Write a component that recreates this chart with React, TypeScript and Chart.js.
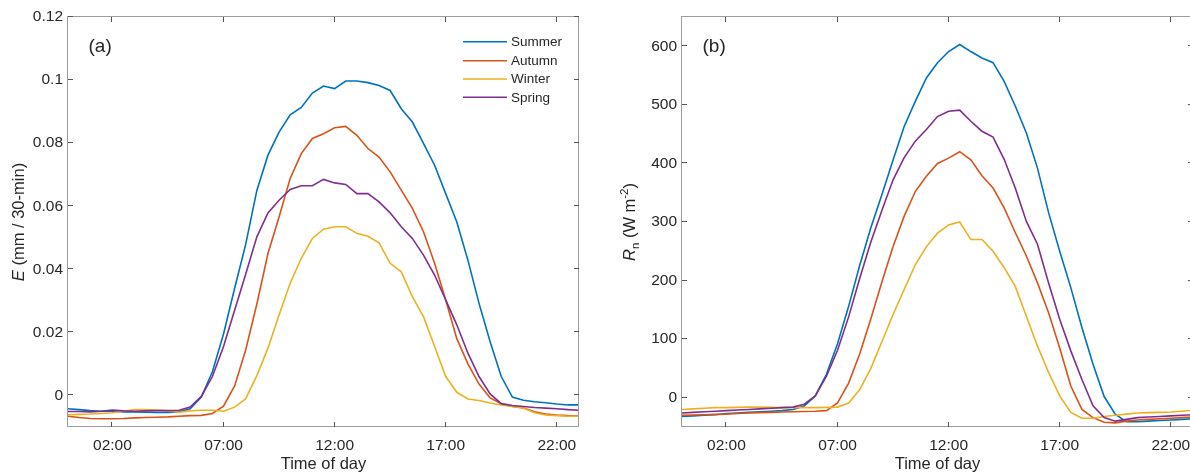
import React, { useEffect, useRef } from 'react';
import { Chart, registerables } from 'chart.js';

Chart.register(...registerables);

// ---------- data ----------
const HOURS = [
  0, 0.5, 1, 1.5, 2, 2.5, 3, 3.5, 4, 4.5, 5, 5.5, 6, 6.5, 7, 7.5, 8, 8.5, 9, 9.5, 10, 10.5, 11, 11.5,
  12, 12.5, 13, 13.5, 14, 14.5, 15, 15.5, 16, 16.5, 17, 17.5, 18, 18.5, 19, 19.5, 20, 20.5, 21, 21.5,
  22, 22.5, 23,
];

const SEASONS = ['Summer', 'Autumn', 'Winter', 'Spring'];
const COLORS = ['#0072BD', '#D95319', '#EDB120', '#7E2F8E'];

const E_SUMMER = [
  -0.0042, -0.0045, -0.0048, -0.005, -0.005, -0.0052, -0.0052, -0.0053, -0.0054, -0.0054, -0.0052, -0.0042,
  -0.0005, 0.0075, 0.0195, 0.034, 0.048, 0.065, 0.0762, 0.0835, 0.089, 0.0913, 0.0959, 0.0981, 0.0973,
  0.0997, 0.0997, 0.0992, 0.0983, 0.0967, 0.0909, 0.0867, 0.0799, 0.073, 0.064, 0.055, 0.0429, 0.0292,
  0.017, 0.006, -0.0005, -0.0015, -0.002, -0.0023, -0.0027, -0.003, -0.003,
];
const E_AUTUMN = [
  -0.0066, -0.007, -0.0073, -0.0074, -0.0074, -0.0073, -0.0071, -0.007, -0.0069, -0.0068, -0.0066, -0.0064,
  -0.0063, -0.0057, -0.0034, 0.003, 0.0145, 0.029, 0.045, 0.0566, 0.0688, 0.0767, 0.0815, 0.083, 0.0849,
  0.0853, 0.0825, 0.0783, 0.0756, 0.0709, 0.0651, 0.0593, 0.0519, 0.0419, 0.0303, 0.018, 0.01, 0.0036,
  -0.0008, -0.0026, -0.0035, -0.004, -0.0052, -0.0059, -0.0062, -0.0064, -0.0065,
];
const E_WINTER = [
  -0.0061, -0.006, -0.0059, -0.0057, -0.0055, -0.005, -0.0045, -0.0045, -0.0046, -0.0049, -0.0053, -0.0049,
  -0.0047, -0.0047, -0.005, -0.0037, -0.001, 0.0063, 0.015, 0.0255, 0.0356, 0.0435, 0.0498, 0.0527, 0.0535,
  0.0535, 0.0514, 0.0505, 0.0484, 0.0419, 0.0392, 0.0313, 0.025, 0.0155, 0.006, 0.001, -0.0011, -0.0016,
  -0.0024, -0.003, -0.0035, -0.004, -0.0055, -0.0062, -0.0064, -0.0066, -0.0066,
];
const E_SPRING = [
  -0.0051, -0.0051, -0.0052, -0.005, -0.0046, -0.0049, -0.005, -0.0049, -0.0048, -0.0048, -0.0047, -0.0037,
  -0.0003, 0.006, 0.0155, 0.027, 0.0385, 0.0503, 0.0579, 0.0619, 0.0653, 0.0665, 0.0665, 0.0685, 0.0674,
  0.0669, 0.064, 0.064, 0.0614, 0.0579, 0.0535, 0.0498, 0.0445, 0.0382, 0.0303, 0.0224, 0.0134, 0.006,
  0.0005, -0.0026, -0.0032, -0.0035, -0.0038, -0.004, -0.0042, -0.0045, -0.0047,
];

const RN_SUMMER = [
  -32, -31, -30, -29, -27, -26, -25, -24, -23, -22, -20, -14, 3, 40, 92, 156, 226, 290, 347, 406, 463, 506,
  546, 572, 591, 603, 591, 580, 572, 540, 498, 452, 392, 316, 250, 188, 120, 57, 2, -28, -41, -41, -40, -39,
  -38, -37, -36,
];
const RN_AUTUMN = [
  -30, -29.5, -29, -28.5, -28, -27, -26, -25.5, -25, -24.5, -24, -23.5, -23, -22, -9, 25, 75, 135, 198, 258,
  310, 352, 378, 400, 409, 420, 406, 379, 358, 324, 282, 242, 196, 145, 85, 20, -20, -34, -42, -43, -40, -38,
  -37, -36, -35, -34, -33,
];
const RN_WINTER = [
  -20, -19, -18, -17, -17, -16.5, -16, -16, -16.5, -17, -17, -17, -17, -16.5, -16, -9, 14, 50, 96, 142, 185,
  227, 258, 281, 295, 300, 270, 270, 250, 222, 190, 139, 88, 43, 3, -25, -35, -35, -32, -30, -28, -26, -25.5,
  -25, -24.5, -23, -21.5,
];
const RN_SPRING = [
  -26, -25, -24, -23, -22, -21, -20, -19, -18, -17, -16, -11, 3, 37, 81, 138, 204, 266, 320, 372, 410, 438,
  458, 480, 489, 491, 472, 455, 445, 407, 358, 301, 262, 196, 134, 80, 31, -14, -34, -40, -37, -34, -33, -32,
  -31, -30, -29,
];

const X_TICKS = [2, 7, 12, 17, 22];
const X_TICK_LABELS = ['02:00', '07:00', '12:00', '17:00', '22:00'];
const E_TICKS = [0, 0.02, 0.04, 0.06, 0.08, 0.1, 0.12];
const E_TICK_LABELS = ['0', '0.02', '0.04', '0.06', '0.08', '0.1', '0.12'];
const RN_TICKS = [0, 100, 200, 300, 400, 500, 600];
const RN_TICK_LABELS = ['0', '100', '200', '300', '400', '500', '600'];

// ---------- styling ----------
const FONT = "'Liberation Sans', Arial, Helvetica, sans-serif";
const TEXT = '#262626';
const FRAME = '#9c9c9c';
const TICKMARK = '#555555';

type Part = { t: string; italic?: boolean; shift?: 'sub' | 'sup' };

function overlay(opts: { id: string; label: string; title: Part[]; titleBaseX: number; legend: boolean }) {
  return {
    id: opts.id,
    afterDraw(chart: any) {
      const { ctx, chartArea: a, scales } = chart;
      ctx.save();
      // frame
      ctx.strokeStyle = FRAME;
      ctx.lineWidth = 1;
      ctx.strokeRect(a.left - 0.5, a.top - 0.5, a.right - a.left, a.bottom - a.top);
      // inward ticks on all sides
      ctx.strokeStyle = TICKMARK;
      ctx.beginPath();
      const tl = 5;
      scales.x.ticks.forEach((t: any) => {
        const px = Math.round(scales.x.getPixelForValue(t.value)) - 0.5;
        ctx.moveTo(px, a.bottom);
        ctx.lineTo(px, a.bottom - tl);
        ctx.moveTo(px, a.top);
        ctx.lineTo(px, a.top + tl);
      });
      scales.y.ticks.forEach((t: any) => {
        const py = Math.round(scales.y.getPixelForValue(t.value)) - 0.5;
        ctx.moveTo(a.left, py);
        ctx.lineTo(a.left + tl, py);
        ctx.moveTo(a.right, py);
        ctx.lineTo(a.right - tl, py);
      });
      ctx.stroke();

      // panel label
      ctx.fillStyle = TEXT;
      ctx.font = `19px ${FONT}`;
      ctx.textBaseline = 'middle';
      ctx.textAlign = 'left';
      ctx.fillText(opts.label, a.left + 20.5, 47);

      // x title
      ctx.font = `16.5px ${FONT}`;
      ctx.textAlign = 'center';
      ctx.textBaseline = 'alphabetic';
      ctx.fillText('Time of day', (a.left + a.right) / 2, 469);

      // y title (rotated, mixed styles)
      const size = 16.5;
      const small = 11.5;
      const fontFor = (p: Part) =>
        `${p.italic ? 'italic ' : ''}${p.shift ? small : size}px ${FONT}`;
      let total = 0;
      opts.title.forEach((p) => {
        ctx.font = fontFor(p);
        total += ctx.measureText(p.t).width;
      });
      ctx.save();
      ctx.translate(opts.titleBaseX, (a.top + a.bottom) / 2);
      ctx.rotate(-Math.PI / 2);
      ctx.textAlign = 'left';
      ctx.textBaseline = 'alphabetic';
      let cx = -total / 2;
      opts.title.forEach((p) => {
        ctx.font = fontFor(p);
        const dy = p.shift === 'sub' ? 4 : p.shift === 'sup' ? -7 : 0;
        ctx.fillText(p.t, cx, dy);
        cx += ctx.measureText(p.t).width;
      });
      ctx.restore();

      // legend
      if (opts.legend) {
        const rows = [41.7, 60.7, 79, 97.3];
        ctx.font = `13.5px ${FONT}`;
        ctx.textAlign = 'left';
        ctx.textBaseline = 'middle';
        SEASONS.forEach((s, i) => {
          ctx.strokeStyle = COLORS[i];
          ctx.lineWidth = 1.6;
          ctx.beginPath();
          ctx.moveTo(463, rows[i]);
          ctx.lineTo(507, rows[i]);
          ctx.stroke();
          ctx.fillStyle = TEXT;
          ctx.fillText(s, 511, rows[i] + 0.5);
        });
      }
      ctx.restore();
    },
  };
}

function makeConfig(
  series: number[][],
  yMin: number,
  yMax: number,
  yTicks: number[],
  yLabels: string[],
  yWidth: number,
  padRight: number,
  plugin: any
) {
  return {
    type: 'line' as const,
    data: {
      datasets: series.map((vals, i) => ({
        label: SEASONS[i],
        data: HOURS.map((h, k) => ({ x: h, y: vals[k] })),
        borderColor: COLORS[i],
        backgroundColor: COLORS[i],
        borderWidth: 1.6,
        pointRadius: 0,
        tension: 0,
        fill: false,
        order: series.length - i,
      })),
    },
    options: {
      responsive: false,
      animation: false,
      layout: { padding: { left: 0, right: padRight, top: 17, bottom: 0 } },
      plugins: { legend: { display: false }, tooltip: { enabled: false }, title: { display: false } },
      scales: {
        x: {
          type: 'linear',
          min: 0,
          max: 23,
          grid: { display: false, drawTicks: false },
          border: { display: false },
          afterBuildTicks: (s: any) => {
            s.ticks = X_TICKS.map((v) => ({ value: v }));
          },
          afterFit: (s: any) => {
            s.height = 49;
          },
          ticks: {
            autoSkip: false,
            maxRotation: 0,
            minRotation: 0,
            padding: 9,
            color: TEXT,
            font: { family: FONT, size: 15.5 },
            callback: (v: number) => X_TICK_LABELS[X_TICKS.indexOf(v)] ?? '',
          },
        },
        y: {
          type: 'linear',
          min: yMin,
          max: yMax,
          grid: { display: false, drawTicks: false },
          border: { display: false },
          afterBuildTicks: (s: any) => {
            s.ticks = yTicks.map((v) => ({ value: v }));
          },
          afterFit: (s: any) => {
            s.width = yWidth;
          },
          ticks: {
            autoSkip: false,
            padding: 5,
            color: TEXT,
            font: { family: FONT, size: 15.5 },
            callback: (v: number) => {
              const idx = yTicks.findIndex((t) => Math.abs(t - v) < 1e-9);
              return idx >= 0 ? yLabels[idx] : '';
            },
          },
        },
      },
    },
    plugins: [plugin],
  };
}

export default function App() {
  const refA = useRef<HTMLCanvasElement>(null);
  const refB = useRef<HTMLCanvasElement>(null);

  useEffect(() => {
    const chartA = new Chart(
      refA.current as HTMLCanvasElement,
      makeConfig(
        [E_SUMMER, E_AUTUMN, E_WINTER, E_SPRING],
        -0.01,
        0.12,
        E_TICKS,
        E_TICK_LABELS,
        68,
        21,
        overlay({
          id: 'ovA',
          label: '(a)',
          title: [{ t: 'E', italic: true }, { t: ' (mm / 30-min)' }],
          titleBaseX: 24,
          legend: true,
        })
      ) as any
    );
    const chartB = new Chart(
      refB.current as HTMLCanvasElement,
      makeConfig(
        [RN_SUMMER, RN_AUTUMN, RN_WINTER, RN_SPRING],
        -50,
        650,
        RN_TICKS,
        RN_TICK_LABELS,
        82,
        7,
        overlay({
          id: 'ovB',
          label: '(b)',
          title: [
            { t: 'R', italic: true },
            { t: 'n', shift: 'sub' },
            { t: ' (W m' },
            { t: '-2', shift: 'sup' },
            { t: ')' },
          ],
          titleBaseX: 35,
          legend: false,
        })
      ) as any
    );
    return () => {
      chartA.destroy();
      chartB.destroy();
    };
  }, []);

  return (
    <div
      style={{
        position: 'absolute',
        left: 0,
        top: 0,
        width: 1190,
        height: 476,
        overflow: 'hidden',
        background: '#ffffff',
      }}
    >
      <canvas
        ref={refA}
        width={600}
        height={476}
        style={{ position: 'absolute', left: 0, top: 0, width: 600, height: 476 }}
      />
      <canvas
        ref={refB}
        width={600}
        height={476}
        style={{ position: 'absolute', left: 600, top: 0, width: 600, height: 476 }}
      />
    </div>
  );
}
